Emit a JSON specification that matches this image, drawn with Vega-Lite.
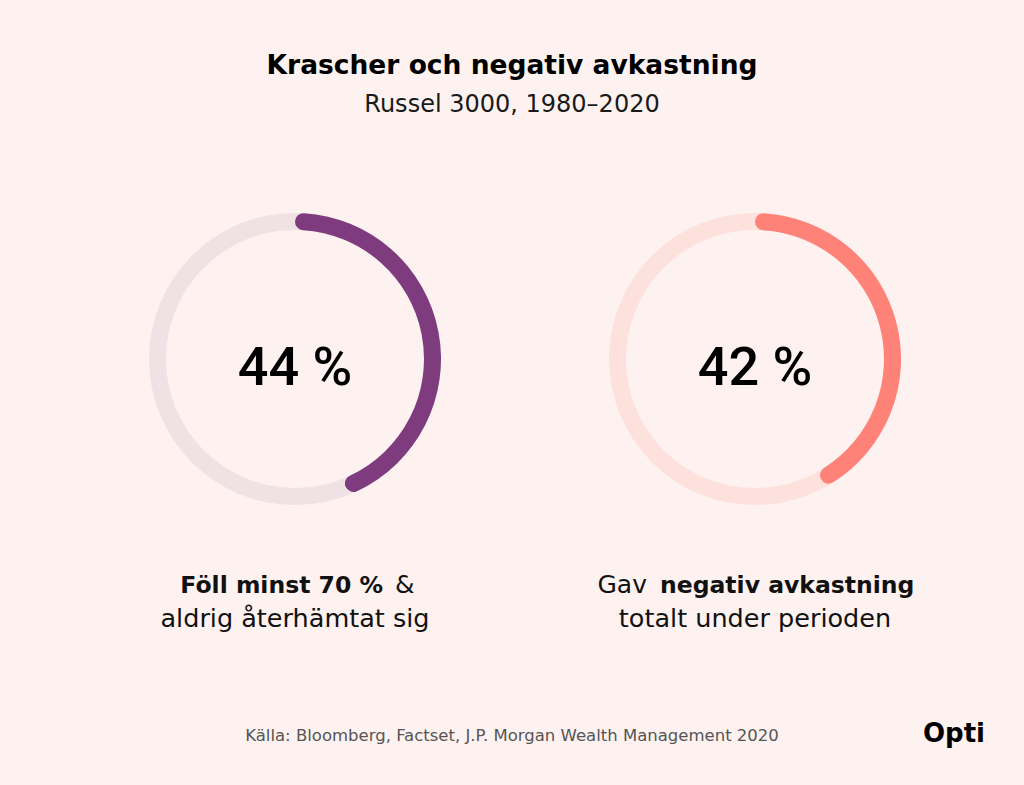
{
  "$schema": "https://vega.github.io/schema/vega-lite/v6.json",
  "width": 1024,
  "height": 718,
  "autosize": {"type": "none"},
  "padding": {"top": 0, "left": 0, "right": 0, "bottom": 67},
  "background": "#fdf2f0",
  "config": {"view": {"stroke": null}, "text": {"font": "DejaVu Sans", "color": "#111111"}},
  "datasets": {
    "ringar": [
      {"kolumn": "A", "andel": 44, "etikett": "44 %"},
      {"kolumn": "B", "andel": 42, "etikett": "42 %"}
    ],
    "rubrik": [{"text": "Krascher och negativ avkastning"}],
    "underrubrik": [{"text": "Russel 3000, 1980–2020"}],
    "vanster_fet": [{"kolumn": "A", "text": "Föll minst 70 %"}],
    "vanster_tunn": [{"kolumn": "A", "text": "&"}],
    "hoger_tunn": [{"kolumn": "B", "text": "Gav"}],
    "hoger_fet": [{"kolumn": "B", "text": "negativ avkastning"}],
    "rad2": [
      {"kolumn": "A", "text": "aldrig återhämtat sig"},
      {"kolumn": "B", "text": "totalt under perioden"}
    ],
    "kalla": [{"text": "Källa: Bloomberg, Factset, J.P. Morgan Wealth Management 2020"}],
    "logo": [{"text": "Opti"}]
  },
  "layer": [
    {
      "data": {"name": "ringar"},
      "mark": {"type": "arc", "radius": 146, "radius2": 129, "theta": 0, "theta2": 6.2832},
      "encoding": {
        "x": {"field": "kolumn", "type": "nominal", "scale": {"type": "point", "domain": ["A", "B"], "range": [295, 755], "padding": 0}, "axis": null},
        "color": {"condition": {"test": "datum.kolumn === 'A'", "value": "#efe1e4"}, "value": "#fde1dd"}
      }
    },
    {
      "data": {"name": "ringar"},
      "mark": {"type": "arc", "radius": 146, "radius2": 129, "cornerRadius": 8.5},
      "encoding": {
        "x": {"field": "kolumn", "type": "nominal", "scale": {"type": "point", "domain": ["A", "B"], "range": [295, 755], "padding": 0}, "axis": null},
        "theta": {"field": "andel", "type": "quantitative", "stack": null, "scale": {"domain": [0, 100], "range": [0, 6.283185]}},
        "theta2": {"datum": 0},
        "color": {"condition": {"test": "datum.kolumn === 'A'", "value": "#7e3b7d"}, "value": "#ff8279"}
      }
    },
    {
      "data": {"name": "ringar"},
      "mark": {"type": "text", "font": "Roboto", "fontWeight": 500, "fontSize": 54, "baseline": "alphabetic", "dy": 26, "color": "#000000"},
      "encoding": {
        "x": {"field": "kolumn", "type": "nominal"},
        "text": {"field": "etikett"}
      }
    },
    {
      "data": {"name": "rubrik"},
      "mark": {"type": "text", "fontWeight": "bold", "fontSize": 26.5, "baseline": "alphabetic", "dy": -285, "color": "#000000"},
      "encoding": {"text": {"field": "text"}}
    },
    {
      "data": {"name": "underrubrik"},
      "mark": {"type": "text", "fontWeight": 400, "fontSize": 24, "baseline": "alphabetic", "dy": -247, "color": "#1a1a1a"},
      "encoding": {"text": {"field": "text"}}
    },
    {
      "data": {"name": "vanster_fet"},
      "mark": {"type": "text", "fontWeight": "bold", "fontSize": 23.5, "align": "right", "baseline": "alphabetic", "dx": 88, "dy": 234},
      "encoding": {"x": {"field": "kolumn", "type": "nominal"}, "text": {"field": "text"}}
    },
    {
      "data": {"name": "vanster_tunn"},
      "mark": {"type": "text", "fontWeight": 400, "fontSize": 25, "align": "left", "baseline": "alphabetic", "dx": 100, "dy": 234},
      "encoding": {"x": {"field": "kolumn", "type": "nominal"}, "text": {"field": "text"}}
    },
    {
      "data": {"name": "hoger_tunn"},
      "mark": {"type": "text", "fontWeight": 400, "fontSize": 25, "align": "right", "baseline": "alphabetic", "dx": -108, "dy": 234},
      "encoding": {"x": {"field": "kolumn", "type": "nominal"}, "text": {"field": "text"}}
    },
    {
      "data": {"name": "hoger_fet"},
      "mark": {"type": "text", "fontWeight": "bold", "fontSize": 23.5, "align": "left", "baseline": "alphabetic", "dx": -95, "dy": 234},
      "encoding": {"x": {"field": "kolumn", "type": "nominal"}, "text": {"field": "text"}}
    },
    {
      "data": {"name": "rad2"},
      "mark": {"type": "text", "fontWeight": 400, "fontSize": 25.5, "baseline": "alphabetic", "dy": 268},
      "encoding": {"x": {"field": "kolumn", "type": "nominal"}, "text": {"field": "text"}}
    },
    {
      "data": {"name": "kalla"},
      "mark": {"type": "text", "fontWeight": 400, "fontSize": 16.5, "baseline": "alphabetic", "dy": 382, "color": "#555555"},
      "encoding": {"text": {"field": "text"}}
    },
    {
      "data": {"name": "logo"},
      "mark": {"type": "text", "fontWeight": "bold", "fontSize": 26, "align": "right", "baseline": "alphabetic", "dx": 473, "dy": 383, "color": "#000000"},
      "encoding": {"text": {"field": "text"}}
    }
  ]
}
